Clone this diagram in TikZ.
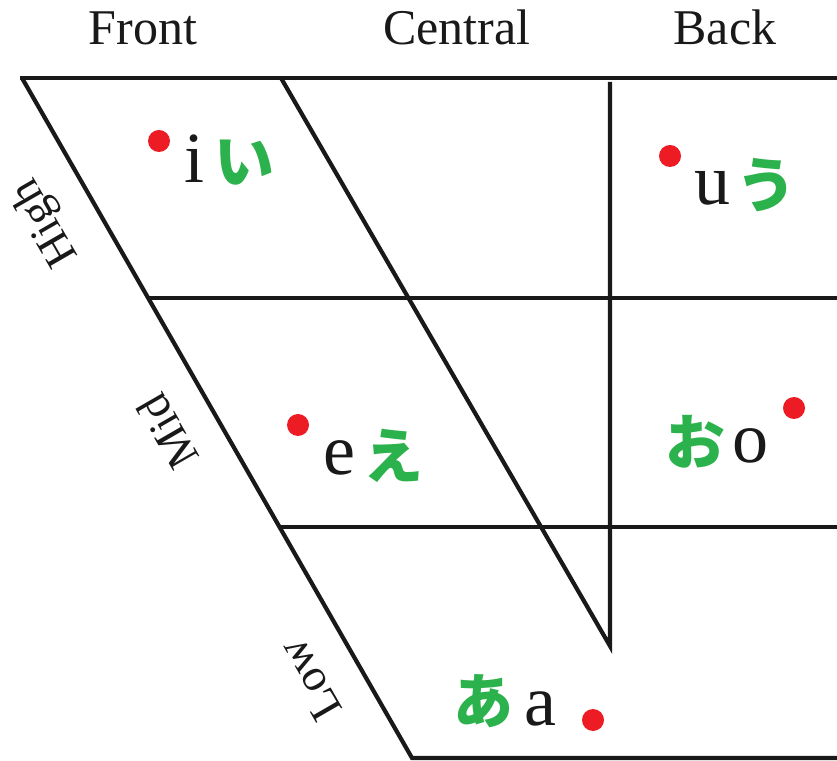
\documentclass[tikz,border=0pt]{standalone}
\usepackage{fontspec}
\setmainfont{Liberation Serif}
\newfontfamily\jpfont{Noto Sans CJK JP}
\definecolor{vowelred}{HTML}{ED1C24}
\definecolor{kanagreen}{HTML}{2BB24C}

\begin{document}
\begin{tikzpicture}[x=1pt, y=1pt,
  chart/.style={line width=4.2pt, draw=black!90},
  head/.style={font=\fontsize{50}{50}\selectfont, anchor=base, text=black!90},
  height/.style={font=\fontsize{46}{46}\selectfont, rotate=120, text=black!90},
  vowel/.style={font=\fontsize{72}{72}\selectfont, anchor=base, text=black!90, inner sep=0pt},
  kana/.style={font=\jpfont\bfseries\fontsize{60}{60}\selectfont, text=kanagreen, inner sep=0pt},
  dot/.style={circle, fill=vowelred, minimum size=22pt, inner sep=0pt}]
  \useasboundingbox (0,0) rectangle (837,760);

  \coordinate (tl) at (20,682);
  \coordinate (tr) at (837,682);
  \coordinate (ftop) at (22,682);
  \coordinate (fbot) at (412,2);
  \coordinate (lr) at (837,2);
  \coordinate (ctop) at (281,682);
  \coordinate (cbot) at (610,114);
  \coordinate (btop) at (610,678);
  \coordinate (hl) at (148,462);
  \coordinate (hr) at (837,462);
  \coordinate (ml) at (279,233);
  \coordinate (mr) at (837,233);

  \draw[chart] (tl) -- (tr);
  \draw[chart] (ftop) -- (fbot) -- (lr);
  \draw[chart] (ctop) -- (cbot) -- (btop);
  \draw[chart] (hl) -- (hr);
  \draw[chart] (ml) -- (mr);

  \node[head] (front) at (143,715) {Front};
  \node[head] (central) at (457,715) {Central};
  \node[head] (back) at (725,715) {Back};
  \node[height] (high) at (46,538) {High};
  \node[height] (mid) at (168,328) {Mid};
  \node[height] (low) at (310,80) {Low};

  \node[dot] (idot) at (159,619) {};
  \node[vowel] (i) at (194,577) {i};
  \node[kana] (ikana) at (244,597) {い};
  \node[dot] (udot) at (670,604) {};
  \node[vowel] (u) at (712,555) {u};
  \node[kana] (ukana) at (766,575) {う};
  \node[dot] (edot) at (298,335) {};
  \node[vowel] (e) at (339,285) {e};
  \node[kana] (ekana) at (393,304) {え};
  \node[dot] (odot) at (794,352) {};
  \node[vowel] (o) at (750,297) {o};
  \node[kana] (okana) at (695,318) {お};
  \node[dot] (adot) at (593,40) {};
  \node[vowel] (a) at (540,35) {a};
  \node[kana] (akana) at (483,59) {あ};
\end{tikzpicture}
\end{document}
